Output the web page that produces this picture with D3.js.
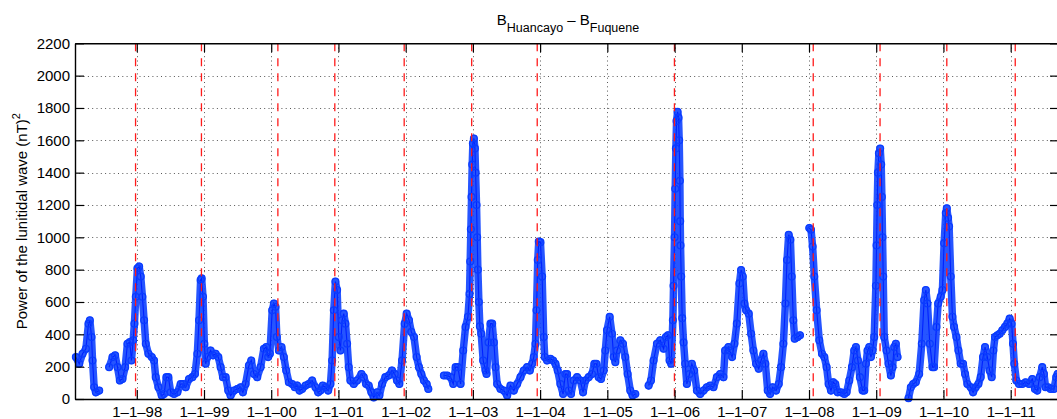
<!DOCTYPE html>
<html>
<head>
<meta charset="utf-8">
<script src="https://cdn.jsdelivr.net/npm/d3@7/dist/d3.min.js"></script>
<style>
  body { margin: 0; background: #fff; }
  svg { display: block; font-family: "Liberation Sans", Arial, Helvetica, sans-serif; }
</style>
</head>
<body>
<svg width="1057" height="419"></svg>
<script>

// Year ticks on the x axis (labelled 1-1-yy).
var yearTicks = [1998, 1999, 2000, 2001, 2002, 2003, 2004, 2005, 2006, 2007, 2008, 2009, 2010, 2011];
var powerTicks = [0, 200, 400, 600, 800, 1000, 1200, 1400, 1600, 1800, 2000, 2200];

// Dates (decimal year) of the red dashed event lines.
var eventYears = [1997.982, 1998.962, 2000.099, 2000.946, 2001.978, 2002.982, 2003.957,
                  2005.998, 2008.063, 2009.057, 2010.05, 2011.068];

// Power of the lunitidal wave, [decimal year, (nT)^2]; null marks a gap in the record.
var samples = [
  [1997.094,259],[1997.144,218],[1997.193,280],[1997.243,311],[1997.282,466],[1997.302,487],
  [1997.327,383],[1997.342,238],[1997.366,73],[1997.391,41],[1997.441,52],
  [1997.52,null],
  [1997.589,197],[1997.639,259],[1997.678,270],[1997.713,197],[1997.748,114],[1997.787,124],
  [1997.827,197],[1997.861,342],[1997.896,352],[1997.921,238],[1997.946,363],[1997.965,466],
  [1997.985,632],[1998.010,808],[1998.035,819],[1998.059,757],[1998.084,632],[1998.109,487],
  [1998.134,342],[1998.173,280],[1998.223,259],[1998.257,238],[1998.282,135],[1998.322,73],
  [1998.371,21],[1998.406,31],[1998.441,135],[1998.470,135],[1998.505,41],[1998.554,31],
  [1998.604,41],[1998.653,93],[1998.688,93],[1998.728,73],[1998.777,124],[1998.827,135],
  [1998.866,155],[1998.901,280],[1998.926,487],[1998.950,736],[1998.965,746],[1998.985,632],
  [1999.005,342],[1999.025,218],[1999.050,259],[1999.099,300],[1999.134,270],[1999.173,280],
  [1999.213,259],[1999.248,197],[1999.282,135],[1999.322,135],[1999.361,52],[1999.396,21],
  [1999.446,52],[1999.495,62],[1999.545,73],[1999.579,41],[1999.619,93],[1999.668,207],
  [1999.703,238],[1999.743,155],[1999.792,135],[1999.842,197],[1999.891,311],[1999.926,321],
  [1999.955,259],[1999.980,280],[2000.015,549],[2000.040,591],[2000.064,570],[2000.084,383],
  [2000.114,300],[2000.153,321],[2000.188,259],[2000.223,176],[2000.262,104],[2000.312,93],
  [2000.351,73],[2000.386,83],[2000.421,52],[2000.460,62],[2000.510,83],[2000.559,93],
  [2000.609,114],[2000.658,73],[2000.698,41],[2000.733,52],[2000.767,83],[2000.807,73],
  [2000.847,52],[2000.881,93],[2000.906,238],[2000.931,549],[2000.955,726],[2000.980,674],
  [2001.005,383],[2001.030,300],[2001.054,487],[2001.079,528],[2001.104,466],[2001.129,342],
  [2001.153,197],[2001.178,114],[2001.228,93],[2001.277,114],[2001.342,155],[2001.376,135],
  [2001.411,93],[2001.450,83],[2001.490,41],[2001.525,10],[2001.574,41],[2001.609,21],
  [2001.649,93],[2001.698,135],[2001.748,145],[2001.797,176],[2001.837,155],[2001.871,114],
  [2001.906,93],[2001.946,238],[2001.985,466],[2002.015,528],[2002.050,487],[2002.084,415],
  [2002.124,383],[2002.163,259],[2002.198,197],[2002.233,155],[2002.272,114],[2002.312,93],
  [2002.337,62],
  [2002.45,null],
  [2002.569,145],[2002.619,145],[2002.668,135],[2002.708,93],[2002.743,197],[2002.777,197],
  [2002.817,93],[2002.856,300],[2002.891,446],[2002.926,508],[2002.950,650],[2002.960,850],
  [2002.970,1050],[2002.980,1250],[2002.990,1450],[2003.000,1580],[2003.015,1611],[2003.030,1550],
  [2003.040,1400],[2003.054,1200],[2003.064,1000],[2003.074,800],[2003.089,600],[2003.104,450],
  [2003.124,404],[2003.153,238],[2003.188,176],[2003.203,155],[2003.233,350],[2003.262,466],
  [2003.287,466],[2003.312,350],[2003.337,197],[2003.361,93],[2003.411,62],[2003.460,52],
  [2003.510,21],[2003.559,83],[2003.609,52],[2003.658,93],[2003.708,135],[2003.757,176],
  [2003.807,197],[2003.847,176],[2003.881,218],[2003.906,259],[2003.931,342],[2003.946,549],
  [2003.965,860],[2003.980,974],[2004.005,970],[2004.030,757],[2004.054,383],[2004.069,259],
  [2004.104,238],[2004.153,249],[2004.193,238],[2004.228,218],[2004.262,176],[2004.302,93],
  [2004.342,31],[2004.376,155],[2004.401,155],[2004.426,52],[2004.460,31],[2004.500,114],
  [2004.550,135],[2004.599,114],[2004.639,41],[2004.673,114],[2004.723,135],[2004.772,155],
  [2004.807,218],[2004.837,218],[2004.871,135],[2004.906,124],[2004.946,176],[2004.970,300],
  [2004.995,425],[2005.035,508],[2005.069,404],[2005.094,259],[2005.119,228],[2005.144,300],
  [2005.193,363],[2005.233,342],[2005.267,259],[2005.302,155],[2005.342,52],[2005.376,21],
  [2005.416,31],
  [2005.5,null],
  [2005.614,83],[2005.649,114],[2005.688,238],[2005.738,342],[2005.787,363],[2005.837,311],
  [2005.871,383],[2005.901,394],[2005.926,238],[2005.950,218],[2005.975,487],[2005.985,700],
  [2006.000,1000],[2006.010,1300],[2006.020,1550],[2006.030,1720],[2006.045,1776],[2006.059,1740],
  [2006.069,1600],[2006.079,1350],[2006.084,1100],[2006.089,950],[2006.099,757],[2006.114,500],
  [2006.134,350],[2006.158,218],[2006.183,93],[2006.223,155],[2006.257,218],[2006.292,176],
  [2006.332,52],[2006.381,31],[2006.431,52],[2006.480,73],[2006.530,83],[2006.579,73],
  [2006.629,135],[2006.678,155],[2006.728,135],[2006.752,300],[2006.802,321],[2006.817,300],
  [2006.856,259],[2006.891,342],[2006.926,466],[2006.965,715],[2006.990,798],[2007.015,757],
  [2007.040,591],[2007.064,549],[2007.104,528],[2007.139,404],[2007.173,300],[2007.213,218],
  [2007.252,187],[2007.287,238],[2007.322,280],[2007.351,218],[2007.386,52],[2007.421,31],
  [2007.460,73],[2007.510,52],[2007.550,93],[2007.584,197],[2007.619,342],[2007.649,591],
  [2007.673,860],[2007.698,1016],[2007.723,985],[2007.743,757],[2007.767,487],[2007.787,373],
  [2007.832,383],[2007.866,394],
  [2007.93,null],
  [2008.005,1057],[2008.030,1047],[2008.054,943],[2008.079,757],[2008.114,549],[2008.153,363],
  [2008.193,280],[2008.228,259],[2008.262,197],[2008.292,93],[2008.327,52],[2008.361,104],
  [2008.391,93],[2008.426,41],[2008.475,41],[2008.525,31],[2008.559,41],[2008.599,114],
  [2008.639,197],[2008.673,300],[2008.698,321],[2008.728,238],[2008.757,135],[2008.797,52],
  [2008.822,52],[2008.847,218],[2008.871,300],[2008.896,321],[2008.921,259],[2008.946,300],
  [2008.970,383],[2008.995,700],[2009.005,950],[2009.015,1200],[2009.025,1400],[2009.040,1520],
  [2009.059,1549],[2009.074,1450],[2009.084,1250],[2009.094,1000],[2009.104,757],[2009.119,383],
  [2009.153,300],[2009.183,218],[2009.218,145],[2009.243,197],[2009.267,321],[2009.292,342],
  [2009.317,259],
  [2009.4,null],
  [2009.480,5],[2009.515,73],[2009.550,93],[2009.589,104],[2009.639,155],[2009.678,342],
  [2009.713,611],[2009.738,674],[2009.762,591],[2009.797,342],[2009.837,197],[2009.861,197],
  [2009.896,446],[2009.921,591],[2009.960,632],[2009.985,674],[2010.010,964],[2010.035,1150],
  [2010.050,1180],[2010.069,1120],[2010.084,1067],[2010.109,757],[2010.134,508],[2010.158,446],
  [2010.193,383],[2010.223,300],[2010.257,218],[2010.292,218],[2010.322,155],[2010.356,93],
  [2010.406,73],[2010.441,41],[2010.480,73],[2010.520,93],[2010.554,135],[2010.589,259],
  [2010.619,321],[2010.653,259],[2010.688,176],[2010.718,135],[2010.743,300],[2010.767,383],
  [2010.802,394],[2010.837,404],[2010.876,425],[2010.916,446],[2010.950,466],[2010.985,497],
  [2011.015,466],[2011.035,342],[2011.054,218],[2011.084,114],[2011.124,93],[2011.173,93],
  [2011.223,104],[2011.272,93],[2011.322,124],[2011.361,62],[2011.396,52],[2011.431,135],
  [2011.470,197],[2011.495,155],[2011.520,73],[2011.559,73],[2011.594,62],[2011.644,62],
  [2011.678,135],[2011.698,155]
];

var svg = d3.select("svg"),
    width = +svg.attr("width"),
    height = +svg.attr("height");

var plotLeft = 75, plotRight = 1059, plotTop = 43.3, plotBottom = 399;

var x = d3.scaleLinear().domain([1997.081, 2011.719]).range([plotLeft, plotRight]);
var y = d3.scaleLinear().domain([0, 2200]).range([plotBottom, plotTop]);

// Dotted grid (MATLAB "grid on").
var grid = svg.append("g").attr("class", "grid")
    .attr("stroke", "#444")
    .attr("stroke-width", 0.9)
    .attr("stroke-dasharray", "1,3.3");
grid.selectAll(".vg").data(yearTicks).enter().append("line")
    .attr("x1", function(d) { return Math.round(x(d)) + 0.5; })
    .attr("x2", function(d) { return Math.round(x(d)) + 0.5; })
    .attr("y1", plotTop).attr("y2", plotBottom);
grid.selectAll(".hg").data(powerTicks.slice(1, -1)).enter().append("line")
    .attr("x1", plotLeft).attr("x2", plotRight)
    .attr("y1", function(d) { return Math.round(y(d)) + 0.5; })
    .attr("y2", function(d) { return Math.round(y(d)) + 0.5; });

// Series: daily markers overlap into a solid band, so a wide stroke stands in for them,
// then the thin line and open circles go on top.
var line = d3.line()
    .defined(function(d) { return d[1] != null; })
    .x(function(d) { return x(d[0]); })
    .y(function(d) { return y(d[1]); });

svg.append("path")
    .datum(samples)
    .attr("fill", "none")
    .attr("stroke", "#1446ff")
    .attr("stroke-opacity", 0.92)
    .attr("stroke-width", 7.5)
    .attr("stroke-linejoin", "round")
    .attr("stroke-linecap", "round")
    .attr("d", line);

svg.append("path")
    .datum(samples)
    .attr("fill", "none")
    .attr("stroke", "#0022ff")
    .attr("stroke-width", 1.1)
    .attr("d", line);

svg.append("g")
  .selectAll("circle")
  .data(samples.filter(function(d) { return d[1] != null; }))
  .enter().append("circle")
    .attr("cx", function(d) { return x(d[0]); })
    .attr("cy", function(d) { return y(d[1]); })
    .attr("r", 3.4)
    .attr("fill", "none")
    .attr("stroke", "#0a3cff")
    .attr("stroke-width", 1.3);

// Red dashed event lines, drawn over the data.
svg.append("g")
  .selectAll("line")
  .data(eventYears)
  .enter().append("line")
    .attr("x1", function(d) { return x(d); })
    .attr("x2", function(d) { return x(d); })
    .attr("y1", plotTop).attr("y2", plotBottom)
    .attr("stroke", "#ff1a1a")
    .attr("stroke-width", 1.3)
    .attr("stroke-dasharray", "8,7");

// Axes with inward ticks on all four sides.
var fmt = function(d) { return "1\u20131\u2013" + String(d % 100).padStart(2, "0"); };

var axisB = svg.append("g").attr("transform", "translate(0," + plotBottom + ")")
    .call(d3.axisBottom(x).tickValues(yearTicks).tickFormat(fmt).tickSizeInner(-9).tickSizeOuter(0).tickPadding(7));
var axisT = svg.append("g").attr("transform", "translate(0," + plotTop + ")")
    .call(d3.axisTop(x).tickValues(yearTicks).tickFormat("").tickSizeInner(-9).tickSizeOuter(0));
var axisL = svg.append("g").attr("transform", "translate(" + plotLeft + ",0)")
    .call(d3.axisLeft(y).tickValues(powerTicks).tickFormat(d3.format("d")).tickSizeInner(-9).tickSizeOuter(0).tickPadding(5));
var axisR = svg.append("g").attr("transform", "translate(" + plotRight + ",0)")
    .call(d3.axisRight(y).tickValues(powerTicks).tickFormat("").tickSizeInner(-9).tickSizeOuter(0));

[axisB, axisT, axisL, axisR].forEach(function(a) {
  a.select(".domain").attr("stroke", "#000").attr("stroke-width", 1.4);
  a.selectAll(".tick line").attr("stroke", "#000").attr("stroke-width", 1.2);
  a.selectAll(".tick text").attr("fill", "#000").attr("font-size", 15)
    .attr("font-family", "'Liberation Sans', Arial, Helvetica, sans-serif");
});

// Title: B_Huancayo - B_Fuquene
var title = svg.append("text")
    .attr("x", 568).attr("y", 25)
    .attr("text-anchor", "middle")
    .attr("font-size", 15)
    .attr("fill", "#000");
title.append("tspan").text("B");
title.append("tspan").attr("font-size", 12.5).attr("dy", 7).text("Huancayo");
title.append("tspan").attr("dy", -7).text(" \u2013 B");
title.append("tspan").attr("font-size", 12.5).attr("dy", 7).text("Fuquene");

// Y label
var ylab = svg.append("text")
    .attr("transform", "translate(27," + (plotTop + plotBottom) / 2 + ") rotate(-90)")
    .attr("text-anchor", "middle")
    .attr("font-size", 15)
    .attr("fill", "#000");
ylab.append("tspan").text("Power of the lunitidal wave (nT)");
ylab.append("tspan").attr("font-size", 11).attr("dy", -7).text("2");

</script>
</body>
</html>
